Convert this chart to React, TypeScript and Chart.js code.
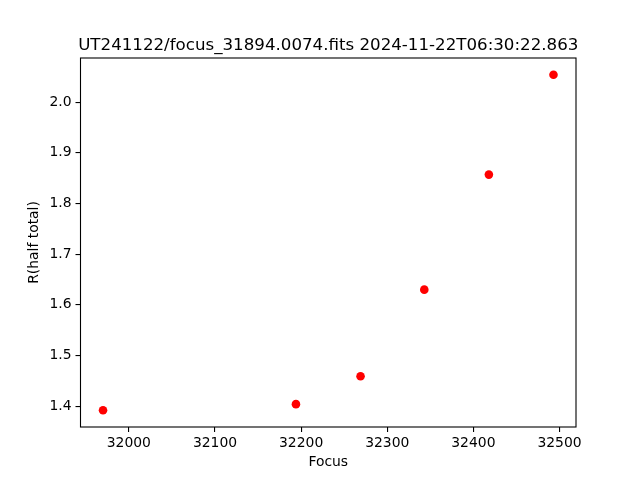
import { useEffect, useRef } from "react";
import { Chart, registerables } from "chart.js";

Chart.register(...registerables);

const TITLE = "UT241122/focus_31894.0074.fits 2024-11-22T06:30:22.863";
const X_LABEL = "Focus";
const Y_LABEL = "R(half total)";
const focusValues = [31970, 32194, 32269, 32343, 32418, 32493];
const radiusValues = [1.392, 1.404, 1.459, 1.63, 1.857, 2.054];
const xTicks = [32000, 32100, 32200, 32300, 32400, 32500];
const yTicks = [1.4, 1.5, 1.6, 1.7, 1.8, 1.9, 2.0];

const FONT = "'DejaVu Sans', sans-serif";

function limits(values: number[]) {
  const lo = Math.min(...values);
  const hi = Math.max(...values);
  const m = (hi - lo) * 0.05;
  return [lo - m, hi + m];
}

const framePlugin = {
  id: "frame",
  afterDraw(chart: any) {
    const { ctx, chartArea } = chart;
    const { left, right, top, bottom } = chartArea;
    ctx.save();
    ctx.strokeStyle = "#000";
    ctx.lineWidth = 1.1;
    ctx.strokeRect(left, top, right - left, bottom - top);
    ctx.fillStyle = "#000";
    ctx.font = `16.67px ${FONT}`;
    ctx.textAlign = "center";
    ctx.textBaseline = "alphabetic";
    ctx.fillText(TITLE, (left + right) / 2, top - 8.3);
    ctx.restore();
  },
};

export default function App() {
  const ref = useRef<HTMLCanvasElement | null>(null);

  useEffect(() => {
    if (!ref.current) return;
    const [xMin, xMax] = limits(focusValues);
    const [yMin, yMax] = limits(radiusValues);
    const tickFont = { family: FONT, size: 13.9 };
    const chart = new Chart(ref.current, {
      type: "scatter",
      data: {
        datasets: [
          {
            data: focusValues.map((x, i) => ({ x, y: radiusValues[i] })),
            backgroundColor: "#ff0000",
            borderColor: "#ff0000",
            pointRadius: 4.3,
            pointBorderWidth: 0,
            pointHoverRadius: 4.3,
          },
        ],
      },
      options: {
        animation: false,
        responsive: false,
        devicePixelRatio: 1,
        layout: { padding: { top: 58, right: 64, left: 0, bottom: 0 } },
        plugins: {
          legend: { display: false },
          title: { display: false },
          tooltip: { enabled: false },
        },
        scales: {
          x: {
            type: "linear",
            min: xMin,
            max: xMax,
            afterBuildTicks: (scale: any) => {
              scale.ticks = xTicks.map((v) => ({ value: v }));
            },
            afterFit: (scale: any) => {
              scale.height = 53;
            },
            border: { display: false },
            grid: {
              drawOnChartArea: false,
              drawTicks: true,
              tickLength: 5,
              color: "#000",
              lineWidth: 1.1,
            },
            ticks: {
              color: "#000",
              font: tickFont,
              padding: 3,
              maxRotation: 0,
              autoSkip: false,
              callback: (v: any) => String(v),
            },
            title: {
              display: true,
              text: X_LABEL,
              color: "#000",
              font: tickFont,
              padding: { top: 0, bottom: 9.5 },
            },
          },
          y: {
            type: "linear",
            min: yMin,
            max: yMax,
            afterBuildTicks: (scale: any) => {
              scale.ticks = yTicks.map((v) => ({ value: v }));
            },
            afterFit: (scale: any) => {
              scale.width = 80.5;
            },
            border: { display: false },
            grid: {
              drawOnChartArea: false,
              drawTicks: true,
              tickLength: 5,
              color: "#000",
              lineWidth: 1.1,
            },
            ticks: {
              color: "#000",
              font: tickFont,
              padding: 4,
              autoSkip: false,
              callback: (v: any) => Number(v).toFixed(1),
            },
            title: {
              display: true,
              text: Y_LABEL,
              color: "#000",
              font: tickFont,
              padding: { top: 26, bottom: 0 },
            },
          },
        },
      },
      plugins: [framePlugin],
    });
    return () => chart.destroy();
  }, []);

  return (
    <div style={{ position: "absolute", left: 0, top: 0, width: 640, height: 480, background: "#fff" }}>
      <canvas ref={ref} width={640} height={480} style={{ display: "block" }} />
    </div>
  );
}
